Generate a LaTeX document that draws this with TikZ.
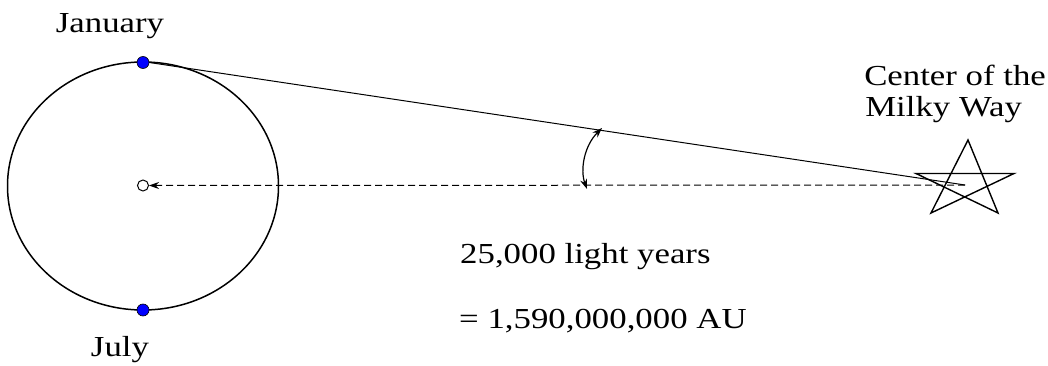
\documentclass[tikz,border=0pt]{standalone}
\usepackage{fontspec}
\setmainfont{Liberation Serif}
\usetikzlibrary{arrows.meta}
\begin{document}
\begin{tikzpicture}[x=1pt,y=-1pt,
  lbl/.style={font=\fontsize{29}{34}\selectfont, xscale=1.2, inner sep=0pt},
  dot/.style={circle, fill=blue, draw=black, line width=0.6pt, minimum size=12pt, inner sep=0pt},
  orbit/.style={line width=1.5pt},
  thin/.style={line width=1pt},
  tip/.style={-{Stealth[length=10pt,width=7pt]}}]
\useasboundingbox (0,0) rectangle (1048,366);
\fill[white] (0,0) rectangle (1048,366);
% orbit
\draw[orbit] (143,186) ellipse [x radius=135.5, y radius=124];
\node[dot] (jan) at (143,62.5) {};
\node[dot] (jul) at (143,310) {};
\node[circle, draw, thin, minimum size=11pt, inner sep=0pt, fill=white] (sun) at (143,185.5) {};
% star (pentagram)
\coordinate (star) at (965,185);
\coordinate (sT) at (968,140);
\coordinate (sBL) at (931,213);
\coordinate (sR) at (1014,173.5);
\coordinate (sL) at (916,173.5);
\coordinate (sBR) at (998,213);
\draw[line width=1.4pt, line join=miter] (sT) -- (sBL) -- (sR) -- (sL) -- (sBR) -- cycle;
% lines
\draw[thin] (jan.east) -- (star);
\draw[thin, dashed, dash pattern=on 7pt off 4pt, tip] (star) -- (sun.east);
% angle arc
\coordinate (a1) at (602,128);
\coordinate (a2) at (587,189);
\draw[line width=1.2pt, {Stealth[length=10pt,width=7pt]}-{Stealth[length=10pt,width=7pt]}] (a1) .. controls (584,146) and (580,170) .. (a2);
% labels
\node[lbl, anchor=base] (tjan) at (110,33) {January};
\node[lbl, anchor=base] (tjul) at (120,356) {July};
\node[lbl, anchor=base west] (tc1) at (864,86) {Center of the};
\node[lbl, anchor=base west] (tc2) at (865,117) {Milky Way};
\node[lbl, anchor=base west] (td1) at (460,263) {25,000 light years};
\node[lbl, anchor=base west] (td2) at (459,328) {= 1,590,000,000 AU};
\end{tikzpicture}
\end{document}
